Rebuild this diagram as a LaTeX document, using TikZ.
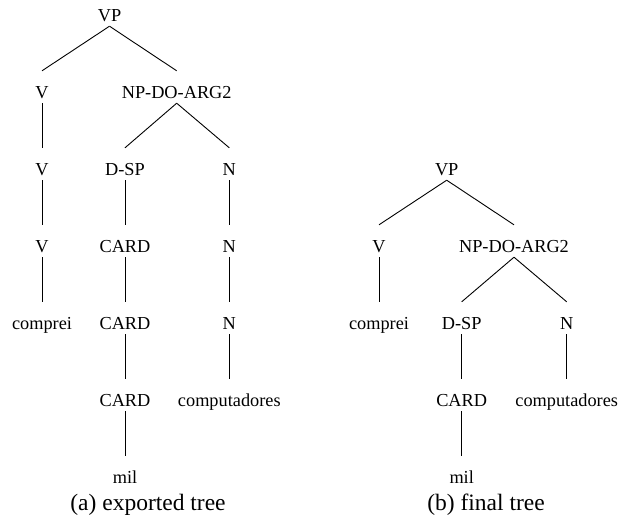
\documentclass[tikz,border=0pt]{standalone}
\usepackage{fontspec}
\setmainfont{Liberation Serif}
\tikzset{
  lbl/.style={anchor=base, inner sep=0pt, text height=27pt, text depth=5pt,
    font=\fontsize{18.3}{20}\selectfont},
  captxt/.style={anchor=base, inner sep=0pt, font=\fontsize{23.5}{26}\selectfont},
  edge/.style={line width=0.9pt}
}
\begin{document}
\begin{tikzpicture}[x=1pt,y=-1pt]
\useasboundingbox (0,0) rectangle (619,520);
% ---------- tree (a) ----------
\node[lbl] (aVP)  at (109.5,21) {VP};
\node[lbl] (aV1)  at (42,98) {V};
\node[lbl] (aNP)  at (176.7,98) {NP-DO-ARG2};
\node[lbl] (aV2)  at (42,175) {V};
\node[lbl] (aD)   at (125,175) {D-SP};
\node[lbl] (aN1)  at (229.3,175) {N};
\node[lbl] (aV3)  at (42,252) {V};
\node[lbl] (aC1)  at (125,252) {CARD};
\node[lbl] (aN2)  at (229.3,252) {N};
\node[lbl] (acomp) at (42,329) {comprei};
\node[lbl] (aC2)  at (125,329) {CARD};
\node[lbl] (aN3)  at (229.3,329) {N};
\node[lbl] (aC3)  at (125,406) {CARD};
\node[lbl] (acomput) at (229.3,406) {computadores};
\node[lbl] (amil) at (125,483) {mil};
\draw[edge] (aVP.south) -- (aV1.north);
\draw[edge] (aVP.south) -- (aNP.north);
\draw[edge] (aV1.south) -- (aV2.north);
\draw[edge] (aV2.south) -- (aV3.north);
\draw[edge] (aV3.south) -- (acomp.north);
\draw[edge] (aNP.south) -- (aD.north);
\draw[edge] (aNP.south) -- (aN1.north);
\draw[edge] (aD.south) -- (aC1.north);
\draw[edge] (aC1.south) -- (aC2.north);
\draw[edge] (aC2.south) -- (aC3.north);
\draw[edge] (aC3.south) -- (amil.north);
\draw[edge] (aN1.south) -- (aN2.north);
\draw[edge] (aN2.south) -- (aN3.north);
\draw[edge] (aN3.south) -- (acomput.north);
\node[captxt] (capa) at (148,510) {(a) exported tree};
% ---------- tree (b) ----------
\node[lbl] (bVP)  at (446.7,175) {VP};
\node[lbl] (bV)   at (379,252) {V};
\node[lbl] (bNP)  at (514,252) {NP-DO-ARG2};
\node[lbl] (bcomp) at (379,329) {comprei};
\node[lbl] (bD)   at (461.7,329) {D-SP};
\node[lbl] (bN)   at (566.7,329) {N};
\node[lbl] (bC)   at (461.7,406) {CARD};
\node[lbl] (bcomput) at (566.7,406) {computadores};
\node[lbl] (bmil) at (461.7,483) {mil};
\draw[edge] (bVP.south) -- (bV.north);
\draw[edge] (bVP.south) -- (bNP.north);
\draw[edge] (bV.south) -- (bcomp.north);
\draw[edge] (bNP.south) -- (bD.north);
\draw[edge] (bNP.south) -- (bN.north);
\draw[edge] (bD.south) -- (bC.north);
\draw[edge] (bC.south) -- (bmil.north);
\draw[edge] (bN.south) -- (bcomput.north);
\node[captxt] (capb) at (486,510) {(b) final tree};
\end{tikzpicture}
\end{document}
